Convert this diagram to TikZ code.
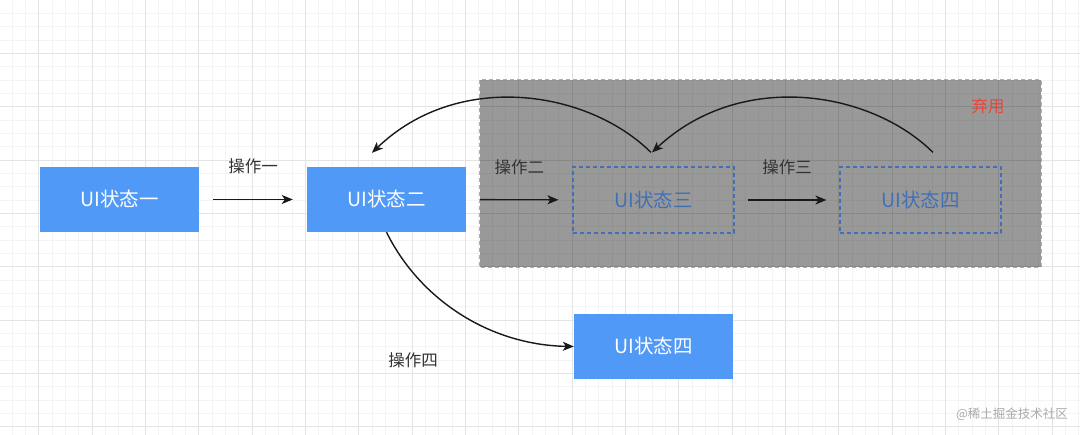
\documentclass[tikz,border=0pt]{standalone}
\usepackage{fontspec}
\setmainfont{Noto Sans CJK SC}
\usetikzlibrary{arrows.meta}
\definecolor{stateblue}{RGB}{81,153,247}
\definecolor{ghostblue}{RGB}{66,112,182}
\definecolor{edgeblue}{RGB}{140,178,232}
\definecolor{gridminor}{RGB}{244,244,244}
\definecolor{gridmajor}{RGB}{228,228,228}
\definecolor{dropred}{RGB}{232,70,58}

\begin{document}
\begin{tikzpicture}[x=1pt,y=-1pt,>={Stealth[length=11pt,width=9pt,inset=3pt]},
  state/.style={fill=stateblue,minimum width=159pt,minimum height=65pt,inner sep=0pt,
    text=white,font=\fontsize{19.5}{21}\selectfont},
  ghost/.style={draw=ghostblue,dash pattern=on 4pt off 3pt,line width=1.1pt,minimum width=161pt,
    minimum height=66pt,inner sep=0pt,text=ghostblue,font=\fontsize{19.5}{21}\selectfont},
  op/.style={font=\fontsize{16.5}{18}\selectfont,text=black!80},
  flow/.style={->,line width=1.4pt,black!90}]
\useasboundingbox (0,0) rectangle (1080,435);
% grid
\fill[white] (0,0) rectangle (1080,435);
\foreach \i in {0,...,80}
  \draw[gridminor,line width=0.8pt] ({12+13.333*\i},0) -- ({12+13.333*\i},435);
\foreach \j in {1,...,32}
  \draw[gridminor,line width=0.8pt] (0,{13.333*\j}) -- (1080,{13.333*\j});
\foreach \i in {0,...,19}
  \draw[gridmajor,line width=0.8pt] ({38.67+53.333*\i},0) -- ({38.67+53.333*\i},435);
\foreach \j in {1,...,8}
  \draw[gridmajor,line width=0.8pt] (0,{53.333*\j}) -- (1080,{53.333*\j});

% abandoned area
\node[fill=black,fill opacity=0.4,minimum width=561pt,minimum height=187pt,inner sep=0pt]
  (drop) at (760.5,173.5) {};
\draw[edgeblue,dash pattern=on 4pt off 3pt,line width=1.1pt] (drop.north west) rectangle (drop.south east);
\node[text=dropred,font=\fontsize{16.5}{18}\selectfont] (droplbl) at (988,106) {弃用};

% states
\node[state] (s1) at (119.5,199.5) {UI状态一};
\node[state] (s2) at (386.5,199.5) {UI状态二};
\node[ghost] (s3) at (653.5,200) {UI状态三};
\node[ghost] (s4) at (920.5,200) {UI状态四};
\node[state] (s5) at (653.5,346.5) {UI状态四};

% operations
\draw[flow,shorten <=14pt,shorten >=14pt] (s1) -- (s2) node[op,midway,yshift=33pt] {操作一};
\draw[flow,shorten <=14pt,shorten >=14pt] (s2) -- (s3) node[op,midway,yshift=33pt] {操作二};
\draw[flow,shorten <=13pt,shorten >=13pt] (s3) -- (s4) node[op,midway,yshift=33pt] {操作三};
\draw[flow] ([shift={(12.5,-14)}]s4.north) .. controls (870,90) and (740,70) .. ([shift={(-1.5,-14)}]s3.north);
\draw[flow] ([shift={(-2.5,-14)}]s3.north) .. controls (588,90) and (458,70) .. ([shift={(-14.5,-14)}]s2.north);
\draw[flow] (s2.south) .. controls (420,300) and (490,345) .. (s5.west);
\node[op] (op4) at (413,360) {操作四};

% watermark
\node[text=black!33,font=\fontsize{12.5}{14}\selectfont] (mark) at (1012,414) {@稀土掘金技术社区};
\end{tikzpicture}
\end{document}
